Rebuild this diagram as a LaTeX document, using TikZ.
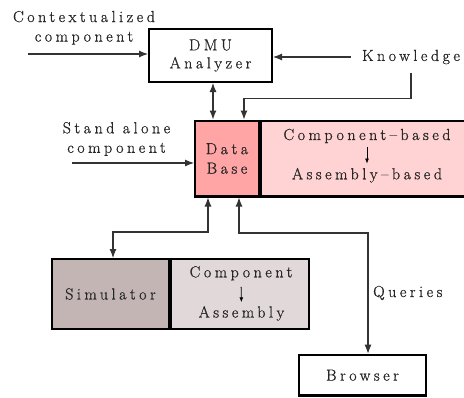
\documentclass[tikz,border=0pt]{standalone}
\usepackage{fontspec}
\setmainfont{Latin Modern Roman}[LetterSpace=22,FakeBold=0.8]
\usetikzlibrary{arrows.meta}
\definecolor{dbfill}{HTML}{FFA5A5}
\definecolor{cbfill}{HTML}{FFD3D3}
\definecolor{simfill}{HTML}{C4B5B5}
\definecolor{cafill}{HTML}{E1D9D9}
\begin{document}
\begin{tikzpicture}[x=1pt,y=-1pt,
  txt/.style={font=\fontsize{16}{19.5}\selectfont, align=center, inner sep=0pt, text=black!85},
  box/.style={draw=black, line width=2.4pt, inner sep=0pt, text=black!85,
    font=\fontsize{16}{19.5}\selectfont, align=center},
  arr/.style={draw=black!80, line width=1.1pt, -{Latex[length=9pt,width=7pt]}},
  darr/.style={draw=black!80, line width=1.1pt, {Latex[length=9pt,width=7pt]}-{Latex[length=9pt,width=7pt]}},
  sarr/.style={draw=black, line width=0.8pt, -{Latex[length=5pt,width=4pt]}}]
\useasboundingbox (0,0) rectangle (464,397);
% boxes
\node[box, minimum width=122.6pt, minimum height=52.6pt] (dmu) at (210.5,55.5) {DMU\\[-1.5pt]Analyzer\rule[-3pt]{0pt}{3pt}};
\node[box, fill=cbfill, minimum width=218.8pt, minimum height=75.6pt] (cb) at (370.6,158.5) {};
\node[box, fill=dbfill, minimum width=63.6pt, minimum height=75.6pt] (db) at (227,158.5) {Data\\Base};
\node[box, fill=cafill, minimum width=137.6pt, minimum height=69.6pt] (ca) at (240,294) {};
\node[box, fill=simfill, minimum width=116.6pt, minimum height=69.6pt] (sim) at (110.5,294) {Simulator};
\node[box, minimum width=126.6pt, minimum height=40.6pt] (br) at (362.5,375.2) {Browser};
% texts
\node[txt] (ctx) at (84,27.75) {Contextualized\\component};
\node[txt, inner xsep=11pt, inner ysep=8.9pt] (know) at (411,57) {Knowledge};
\node[txt] (sa) at (116.5,139) {Stand alone\\component};
\node[txt, anchor=base] (cb1) at (367,140) {Component--based};
\node[txt, anchor=base] (cb2) at (367,179.3) {Assembly--based};
\node[txt, anchor=base] (ca1) at (241,277.3) {Component};
\node[txt, anchor=base] (ca2) at (241.5,317.5) {Assembly};
\node[txt, anchor=base west] (q) at (373,297) {Queries};
% connectors
\coordinate (cac) at (28,54);
\draw[arr] (cac) -- (cac -| dmu.west);
\draw[arr] (know.west) -- (know.west -| dmu.east);
\draw[arr] (know.south) -- ++(0,25.3) -| ([xshift=17pt]db.north);
\draw[darr] ([xshift=-14pt]db.north) -- ([xshift=-14pt]db.north |- dmu.south);
\coordinate (sac) at (72,163);
\draw[arr] (sac) -- (sac -| db.west);
\draw[sarr, shorten <=3.6pt, shorten >=4.2pt] (cb1.south) -- (cb2.north);
\draw[sarr, shorten <=6.3pt, shorten >=3.7pt] (ca1.south) -- (ca2.north);
\draw[darr] ([xshift=-19pt]db.south) -- ++(0,34.5) -| ([xshift=2.5pt]sim.north);
\draw[darr] ([xshift=12pt]db.south) -- ++(0,35.5) -| ([xshift=5.5pt]br.north);
\end{tikzpicture}
\end{document}
